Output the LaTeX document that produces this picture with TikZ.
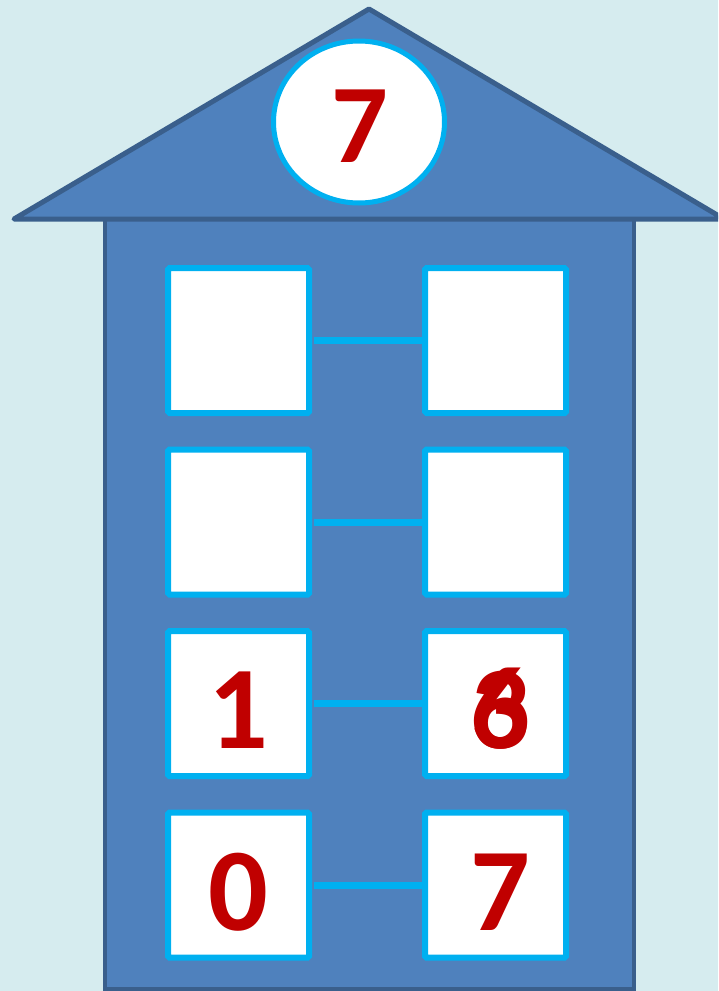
\documentclass[tikz,border=0pt]{standalone}
\usepackage{fontspec}
\newfontfamily\digitfont{Carlito}
\usetikzlibrary{shapes.geometric}
\definecolor{bgc}{HTML}{D6ECEF}
\definecolor{housefill}{HTML}{4F81BD}
\definecolor{housedraw}{HTML}{3A5F8C}
\definecolor{cyanline}{HTML}{00B0F0}
\definecolor{digitred}{HTML}{C00000}
\tikzset{
  numbox/.style={draw=cyanline, line width=6pt, fill=white, minimum width=141pt, minimum height=145pt, rounded corners=1.5pt, inner sep=0pt},
  link/.style={draw=cyanline, line width=7pt},
  digit/.style={text=digitred, font=\digitfont\bfseries\fontsize{118}{118}\selectfont, anchor=base, inner sep=0pt},
}
\begin{document}
\begin{tikzpicture}[x=1pt,y=-1pt]
\useasboundingbox (0,0) rectangle (718,991);
\clip (0,0) rectangle (718,991);
\fill[bgc] (0,0) rectangle (718,991);
% body
\draw[housedraw, line width=4pt, fill=housefill] (105,219) rectangle (634,989);
% roof
\draw[housedraw, line width=5pt, fill=housefill, line join=round] (14,219) -- (369,9) -- (724,219) -- cycle;
% top oval
\node[ellipse, draw=cyanline, line width=5pt, fill=white, minimum width=171pt, minimum height=162pt, inner sep=0pt] (top) at (359,122) {};
\node[text=digitred, font=\digitfont\bfseries\fontsize{112}{112}\selectfont, anchor=base, inner sep=0pt] (topnum) at (360,162) {7};
% boxes
\foreach \i/\y in {1/340.5, 2/522, 3/703.5, 4/885}{
  \node[numbox] (L\i) at (238.5,\y) {};
  \node[numbox] (R\i) at (495.5,\y) {};
  \draw[link] ([xshift=2pt]L\i.east) -- ([xshift=3pt]R\i.west);
}
% digits
\node[digit] (d1) at (238,748) {1};
\node[digit] (d6) at (500,748) {6};
\node[digit] (d3) at (500,748) {3};
\node[digit] (d0) at (238,930) {0};
\node[digit] (d7) at (500,930) {7};
\end{tikzpicture}
\end{document}
